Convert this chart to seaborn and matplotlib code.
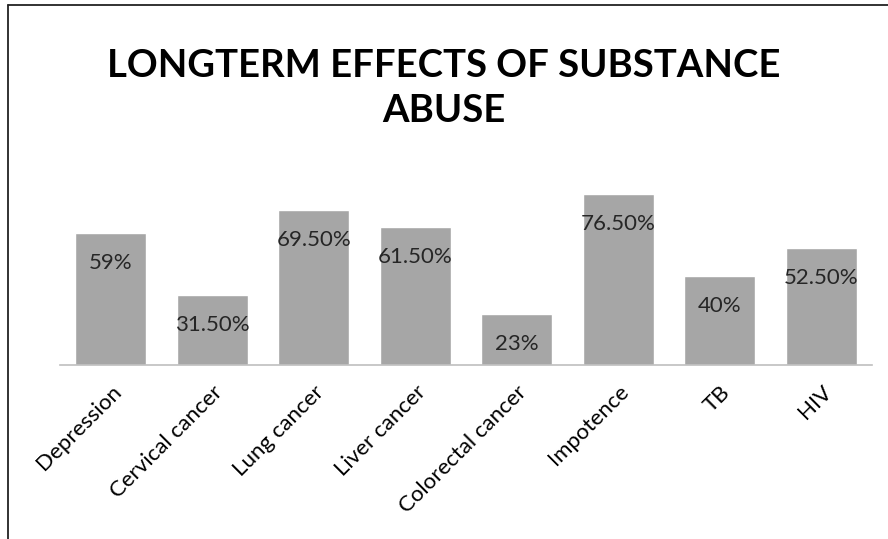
import matplotlib
matplotlib.use("Agg")
import matplotlib.pyplot as plt
import seaborn as sns
import pandas as pd
from matplotlib.lines import Line2D

categories = ["Depression", "Cervical cancer", "Lung cancer", "Liver cancer",
              "Colorectal cancer", "Impotence", "TB", "HIV"]
values = [59, 31.5, 69.5, 61.5, 23, 76.5, 40, 52.5]
labels = ["59%", "31.50%", "69.50%", "61.50%", "23%", "76.50%", "40%", "52.50%"]

df = pd.DataFrame({"effect": categories, "pct": values})

sns.set_style("white")
plt.rcParams["font.family"] = ["Lato", "DejaVu Sans"]

fig = plt.figure(figsize=(8.88, 5.39), dpi=100)
ax = fig.add_axes([0.0676, 0.3228, 0.9144, 0.332])

sns.barplot(data=df, x="effect", y="pct", color="#a6a6a6", width=0.7,
            saturation=1, ax=ax)

ax.set_ylim(0, 80)
ax.set_xlim(-0.5, 7.5)
ax.set_xlabel("")
ax.set_ylabel("")
ax.set_yticks([])
for s in ["top", "right", "left"]:
    ax.spines[s].set_visible(False)
ax.spines["bottom"].set_color("#bfbfbf")
ax.spines["bottom"].set_linewidth(1.2)
ax.tick_params(axis="x", length=0, pad=12)
plt.setp(ax.get_xticklabels(), rotation=45, ha="right", rotation_mode="anchor",
         fontsize=16, color="#000000")

for i, (v, lab) in enumerate(zip(values, labels)):
    ax.annotate(lab, (i, v), xytext=(0, -30), textcoords="offset pixels",
                ha="center", va="center", fontsize=16, color="#262626")

fig.text(0.5, 0.836, "LONGTERM EFFECTS OF SUBSTANCE\nABUSE", ha="center", va="center",
         fontsize=27.5, fontweight="bold", linespacing=1.42, color="#000000")

# chart frame (left and top edges visible in crop)
fig.add_artist(Line2D([8 / 888, 8 / 888], [0, 1 - 5 / 539], transform=fig.transFigure,
                      color="#222222", lw=1.3))
fig.add_artist(Line2D([8 / 888, 1], [1 - 5 / 539, 1 - 5 / 539], transform=fig.transFigure,
                      color="#222222", lw=1.3))

fig.savefig("out.png", dpi=100)
